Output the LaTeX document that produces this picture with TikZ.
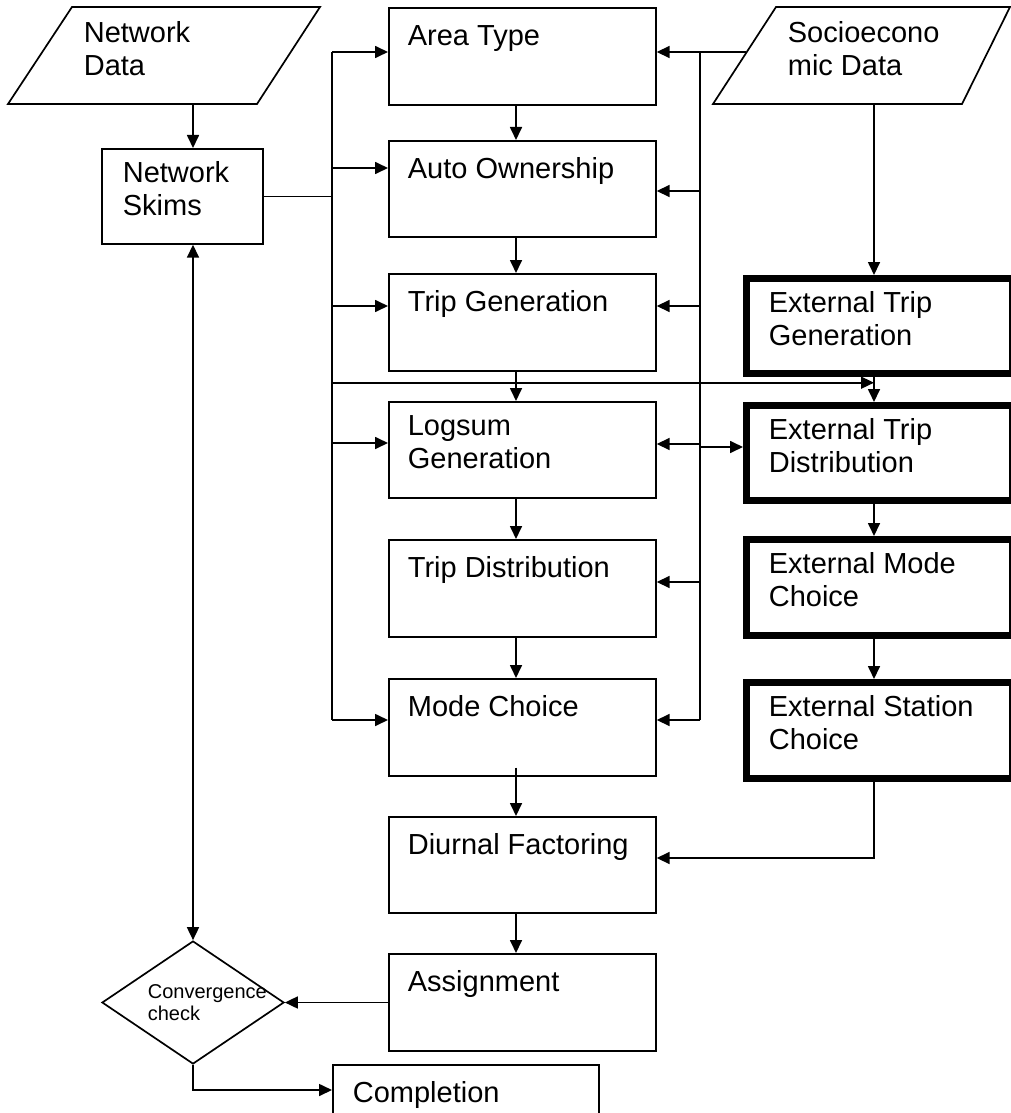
\documentclass[tikz,border=0pt]{standalone}
\usepackage{fontspec}
\setmainfont{Liberation Sans}
\usetikzlibrary{arrows.meta,shapes.geometric,calc}
\begin{document}
\begin{tikzpicture}[x=0.5pt,y=-0.5pt,
  line width=0.85pt,
  tip/.tip={Triangle[length=6.5pt,width=6pt]},
  arr/.style={-tip},
  box/.style={draw, rectangle, anchor=north west, inner sep=0pt, minimum width=133.5pt},
  xbox/.style={draw, rectangle, anchor=north west, inner sep=0pt, line width=3.5pt, minimum width=133pt},
  txt/.style={anchor=north west, inner sep=0pt, align=left,
    font=\fontsize{14.5}{16.4}\selectfont, execute at begin node={\rule{0pt}{12pt}}},
  stxt/.style={anchor=north west, inner sep=0pt, align=left,
    font=\fontsize{10}{11}\selectfont, execute at begin node={\rule{0pt}{9pt}}},
]
\useasboundingbox (0,0) rectangle (1011,1113);
\clip (0,0) rectangle (1011,1113);
\fill[white] (0,0) rectangle (1011,1113);

% bus / column x positions
\coordinate (xc) at (516,0);
\coordinate (xe) at (874,0);
\coordinate (bl) at (332,0);
\coordinate (br) at (700,0);

% data inputs (parallelograms)
\draw (72,7) -- (320,7) -- (257,104) -- (8,104) -- cycle;
\node[txt] (ndtext) at (83,21) {Network\\Data};
\coordinate (ndb) at (193,104);
\draw (776,7) -- (1010,7) -- (962,104) -- (713,104) -- cycle;
\node[txt] (sdtext) at (787,21) {Socioecono\\mic Data};
\coordinate (sdb) at (874,104);
\coordinate (sdl) at (746,52);

% network skims
\node[box, minimum width=80.5pt, minimum height=47.5pt] (skims) at (101,148) {};
\node[txt] (skimstext) at (122,161) {Network\\Skims};

% central chain
\node[box, minimum height=48.5pt] (area) at (388,7) {};
\node[txt] at (407,21) {Area Type};
\node[box, minimum height=48pt] (auto) at (388,140) {};
\node[txt] at (407,154) {Auto Ownership};
\node[box, minimum height=48.5pt] (tgen) at (388,273) {};
\node[txt] at (407,287) {Trip Generation};
\node[box, minimum height=48pt] (logsum) at (388,401) {};
\node[txt] at (407,415) {Logsum\\Generation};
\node[box, minimum height=48.5pt] (tdist) at (388,539) {};
\node[txt] at (407,553) {Trip Distribution};
\node[box, minimum height=48.5pt] (mode) at (388,678) {};
\node[txt] at (407,692) {Mode Choice};
\node[box, minimum height=48pt] (diurnal) at (388,816) {};
\node[txt] at (407,830) {Diurnal Factoring};
\node[box, minimum height=48.5pt] (assign) at (388,953) {};
\node[txt] at (407,967) {Assignment};
\node[box, minimum width=133pt, minimum height=48.5pt] (compl) at (332,1064) {};
\node[txt] at (352,1078) {Completion};

% external chain
\node[xbox, minimum height=47.5pt] (etg) at (743,275) {};
\node[txt] at (768,291) {External Trip\\Generation};
\node[xbox, minimum height=47.5pt] (etd) at (743,402) {};
\node[txt] at (768,418) {External Trip\\Distribution};
\node[xbox, minimum height=48pt] (emc) at (743,536) {};
\node[txt] at (768,552) {External Mode\\Choice};
\node[xbox, minimum height=48pt] (esc) at (743,679) {};
\node[txt] at (768,695) {External Station\\Choice};

% convergence check
\node[draw, diamond, inner sep=0pt, minimum width=91pt, minimum height=61.5pt] (conv) at (193,1002.5) {};
\node[stxt] at (147,984) {Convergence\\check};

% connector points
\coordinate (aL) at ($(area.north west)+(0,45)$);
\coordinate (aR) at ($(area.north east)+(0,45)$);
\coordinate (uL) at ($(auto.north west)+(0,28)$);
\coordinate (uR) at ($(auto.north east)+(0,51)$);
\coordinate (gL) at ($(tgen.north west)+(0,33)$);
\coordinate (gR) at ($(tgen.north east)+(0,33)$);
\coordinate (lL) at ($(logsum.north west)+(0,42)$);
\coordinate (lR) at ($(logsum.north east)+(0,43)$);
\coordinate (lX) at ($(logsum.north east)+(0,46)$);
\coordinate (dR) at ($(tdist.north east)+(0,43)$);
\coordinate (mL) at ($(mode.north west)+(0,42)$);
\coordinate (mR) at ($(mode.north east)+(0,42)$);
\coordinate (hx) at ($(tgen.south)+(0,11)$);
\coordinate (fR) at ($(diurnal.north east)+(0,42)$);
\coordinate (cL) at ($(compl.north west)+(0,26)$);

% network data -> skims
\draw[arr] (ndb) -- (ndb |- skims.north);

% left bus
\draw (skims.east) -- (skims.east -| bl);
\draw (bl |- aL) -- (bl |- mL);
\draw[arr] (bl |- aL) -- (aL);
\draw[arr] (bl |- uL) -- (uL);
\draw[arr] (bl |- gL) -- (gL);
\draw[arr] (bl |- lL) -- (lL);
\draw[arr] (bl |- mL) -- (mL);
\draw[arr] (bl |- hx) -- (xe |- hx);

% right bus
\draw[arr] (sdl) -- (aR);
\draw (br |- aR) -- (br |- mR);
\draw[arr] (br |- uR) -- (uR);
\draw[arr] (br |- gR) -- (gR);
\draw[arr] (br |- lR) -- (lR);
\draw[arr] (br |- dR) -- (dR);
\draw[arr] (br |- mR) -- (mR);
\draw[arr] (br |- lX) -- (etd.west |- lX);

% central chain arrows
\draw[arr] (area.south -| xc) -- (auto.north -| xc);
\draw[arr] (auto.south -| xc) -- (tgen.north -| xc);
\draw[arr] (tgen.south -| xc) -- (logsum.north -| xc);
\draw[arr] (logsum.south -| xc) -- (tdist.north -| xc);
\draw[arr] (tdist.south -| xc) -- (mode.north -| xc);
\draw[arr] ($(mode.south -| xc)+(0,-9)$) -- (diurnal.north -| xc);
\draw[arr] (diurnal.south -| xc) -- (assign.north -| xc);

% external chain arrows
\draw[arr] (sdb) -- (etg.north -| xe);
\draw[arr] (etg.south -| xe) -- (etd.north -| xe);
\draw[arr] (etd.south -| xe) -- (emc.north -| xe);
\draw[arr] (emc.south -| xe) -- (esc.north -| xe);
\draw[arr] (esc.south -| xe) |- (fR);

% assignment, convergence, completion
\draw[arr] (assign.west |- conv.east) -- (conv.east);
\draw[tip-tip] (skims.south -| conv.north) -- (conv.north);
\draw[arr] (conv.south) |- (cL);
\end{tikzpicture}
\end{document}
